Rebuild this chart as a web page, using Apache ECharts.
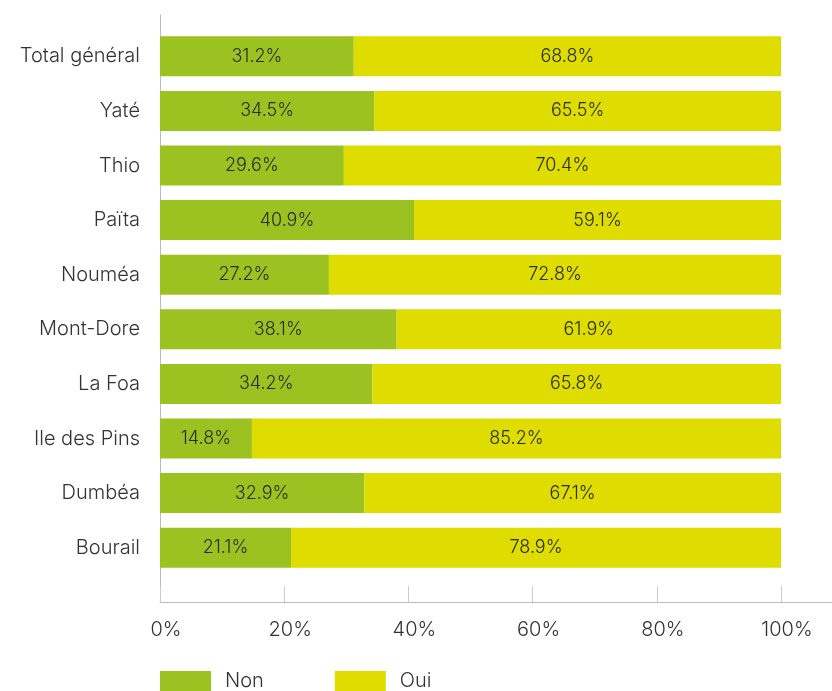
<!DOCTYPE html>
<html>
<head>
<meta charset="utf-8">
<script src="https://cdn.jsdelivr.net/npm/echarts@6/dist/echarts.min.js"></script>
<style>
html,body{margin:0;padding:0;background:#fff;}
#chart{width:832px;height:691px;}
</style>
</head>
<body>
<div id="chart"></div>
<script>
const categories = ['Total général','Yaté','Thio','Païta','Nouméa','Mont-Dore','La Foa','Ile des Pins','Dumbéa','Bourail'];
const nonValues = [31.2, 34.5, 29.6, 40.9, 27.2, 38.1, 34.2, 14.8, 32.9, 21.1];
const ouiValues = [68.8, 65.5, 70.4, 59.1, 72.8, 61.9, 65.8, 85.2, 67.1, 78.9];
const tickValues = [0, 20, 40, 60, 80, 100];

const FONT = 'Inter, "Noto Sans", sans-serif';
const TXT = '#333333';
const XMAX = 108.21;

const chart = echarts.init(document.getElementById('chart'));
const labelCfg = {
  show: true, position: 'inside', color: '#2b2b2b', fontSize: 18, fontWeight: 300, fontFamily: FONT,
  formatter: p => p.value.toFixed(1) + '%'
};
chart.setOption({
  animation: false,
  textStyle: { fontFamily: FONT },
  grid: [
    { left: 160, right: 0, top: 29, bottom: 116 },
    { left: 160, right: 0, top: 15, bottom: 89 }
  ],
  xAxis: [
    { gridIndex: 0, type: 'value', min: 0, max: XMAX, show: false },
    { gridIndex: 1, type: 'value', min: 0, max: XMAX, interval: 20,
      axisLine: { show: true, lineStyle: { color: '#bbbbbb', width: 1 } },
      axisTick: { show: true, inside: true, length: 16, customValues: tickValues, lineStyle: { color: '#cccccc', width: 1 } },
      axisLabel: { customValues: tickValues, formatter: '{value}%', color: TXT, fontSize: 20, fontWeight: 300, fontFamily: FONT, margin: 18, padding: [0, 0, 0, 12] },
      splitLine: { show: false }
    }
  ],
  yAxis: [
    { gridIndex: 0, type: 'category', data: categories, inverse: true,
      axisLine: { show: false }, axisTick: { show: false },
      axisLabel: { color: TXT, fontSize: 20, fontWeight: 300, fontFamily: FONT, margin: 20 }
    },
    { gridIndex: 1, type: 'value', min: 0, max: 1,
      axisLine: { show: true, lineStyle: { color: '#bbbbbb', width: 1 } },
      axisTick: { show: false }, axisLabel: { show: false }, splitLine: { show: false }
    }
  ],
  legend: {
    left: 160, top: 671, padding: 0, itemWidth: 51, itemHeight: 20, itemGap: 71,
    icon: 'rect',
    textStyle: { color: TXT, fontSize: 20, fontWeight: 300, fontFamily: FONT, padding: [0, 0, 0, 9] },
    data: ['Non', 'Oui']
  },
  series: [
    { name: 'Non', type: 'bar', stack: 's', xAxisIndex: 0, yAxisIndex: 0, barWidth: 40,
      itemStyle: { color: '#9bc220' }, label: labelCfg, data: nonValues },
    { name: 'Oui', type: 'bar', stack: 's', xAxisIndex: 0, yAxisIndex: 0, barWidth: 40,
      itemStyle: { color: '#dfdc00' }, label: labelCfg, data: ouiValues }
  ]
});
</script>
</body>
</html>
